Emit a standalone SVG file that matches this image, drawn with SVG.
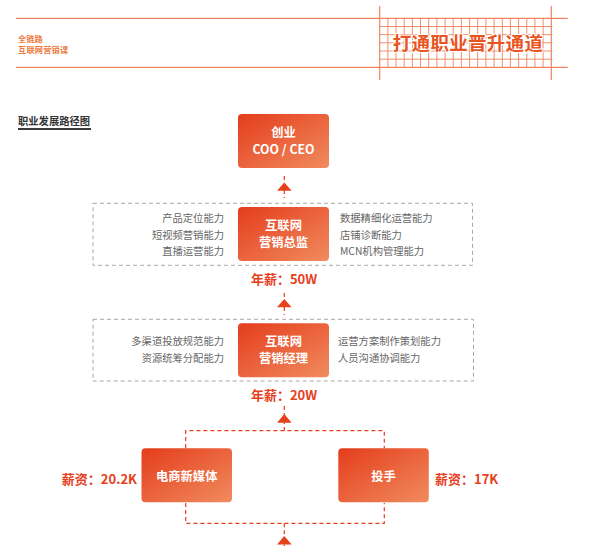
<svg xmlns="http://www.w3.org/2000/svg" width="592" height="546" viewBox="0 0 592 546">
<defs>
<linearGradient id="ng" x1="0" y1="0" x2="1" y2="1">
<stop offset="0" stop-color="#e43d1b"/>
<stop offset="1" stop-color="#f18b5f"/>
</linearGradient>
<style>
.hl{stroke:#ee8560;stroke-width:1.2;fill:none}
.gl{stroke:#ee8560;stroke-width:0.9;fill:none}
.cjk{font-family:"Noto Sans CJK SC","Noto Sans",sans-serif}
.nbox{fill:url(#ng)}
.nt{font-family:"Noto Sans CJK SC","Noto Sans",sans-serif;font-size:12.3px;font-weight:bold;fill:#ffffff;text-anchor:middle}
.sk{font-family:"Noto Sans CJK SC","Noto Sans",sans-serif;font-size:10.3px;fill:#666666}
.sal{font-family:"Noto Sans CJK SC","Noto Sans",sans-serif;font-size:13px;font-weight:bold;fill:#e6401d}
.gbox{fill:none;stroke:#a8a8a8;stroke-width:1;stroke-dasharray:4 3}
.dl{fill:none;stroke:#e6401d;stroke-width:1.2;stroke-dasharray:4 3}
.ah{fill:#e6401d}
</style>
</defs>
<rect width="592" height="546" fill="#ffffff"/>

<g id="header">
<line class="hl" x1="16" y1="18.3" x2="567.7" y2="18.3"/>
<line class="hl" x1="16" y1="67.3" x2="567.7" y2="67.3"/>
<g class="gl">
<line x1="379.7" y1="26.5" x2="552.5" y2="26.5"/>
<line x1="379.7" y1="34.6" x2="552.5" y2="34.6"/>
<line x1="379.7" y1="42.8" x2="552.5" y2="42.8"/>
<line x1="379.7" y1="51.0" x2="552.5" y2="51.0"/>
<line x1="379.7" y1="59.2" x2="552.5" y2="59.2"/>
<line x1="387.9" y1="18.3" x2="387.9" y2="67.3"/>
<line x1="396.0" y1="18.3" x2="396.0" y2="67.3"/>
<line x1="404.2" y1="18.3" x2="404.2" y2="67.3"/>
<line x1="412.4" y1="18.3" x2="412.4" y2="67.3"/>
<line x1="420.5" y1="18.3" x2="420.5" y2="67.3"/>
<line x1="428.7" y1="18.3" x2="428.7" y2="67.3"/>
<line x1="436.9" y1="18.3" x2="436.9" y2="67.3"/>
<line x1="445.1" y1="18.3" x2="445.1" y2="67.3"/>
<line x1="453.2" y1="18.3" x2="453.2" y2="67.3"/>
<line x1="461.4" y1="18.3" x2="461.4" y2="67.3"/>
<line x1="469.6" y1="18.3" x2="469.6" y2="67.3"/>
<line x1="477.7" y1="18.3" x2="477.7" y2="67.3"/>
<line x1="485.9" y1="18.3" x2="485.9" y2="67.3"/>
<line x1="494.1" y1="18.3" x2="494.1" y2="67.3"/>
<line x1="502.3" y1="18.3" x2="502.3" y2="67.3"/>
<line x1="510.4" y1="18.3" x2="510.4" y2="67.3"/>
<line x1="518.6" y1="18.3" x2="518.6" y2="67.3"/>
<line x1="526.8" y1="18.3" x2="526.8" y2="67.3"/>
<line x1="534.9" y1="18.3" x2="534.9" y2="67.3"/>
<line x1="543.1" y1="18.3" x2="543.1" y2="67.3"/>
</g>
<line class="hl" x1="379.7" y1="6" x2="379.7" y2="80"/>
<line class="hl" x1="551.3" y1="6" x2="551.3" y2="80"/>
<text class="cjk" x="468" y="49.7" text-anchor="middle" font-size="18.5" font-weight="bold" fill="#e8541f" stroke="#ffffff" stroke-width="2.2" paint-order="stroke" letter-spacing="0.3">打通职业晋升通道</text>
<text class="cjk" x="18" y="41.5" font-size="8.2" font-weight="bold" fill="#ee7a3c">全链路</text>
<text class="cjk" x="18" y="52.5" font-size="8.2" font-weight="bold" fill="#ee7a3c" letter-spacing="0.2">互联网营销课</text>
</g>

<g id="section-title">
<text class="cjk" x="18" y="124.6" font-size="10.3" font-weight="bold" fill="#333333">职业发展路径图</text>
<rect x="18" y="128" width="73" height="2" fill="#3a3a3a"/>
</g>

<g id="connectors">
<line class="dl" x1="284.3" y1="176" x2="284.3" y2="198"/>
<polygon class="ah" points="284.3,182.5 277,190.7 291.6,190.7"/>
<line class="dl" x1="284.3" y1="293" x2="284.3" y2="315"/>
<polygon class="ah" points="284.3,299 277,307.3 291.6,307.3"/>
<line class="dl" x1="284.3" y1="406" x2="284.3" y2="430.7"/>
<polygon class="ah" points="284.3,414 277,422.7 291.6,422.7"/>
<polyline class="dl" points="185.7,448 185.7,430.7 384.3,430.7 384.3,448"/>
<polyline class="dl" points="185.7,503 185.7,523.3 384.3,523.3 384.3,503"/>
<line class="dl" x1="284.3" y1="523.3" x2="284.3" y2="546"/>
<polygon class="ah" points="284.3,536 277,544.5 291.6,544.5"/>
</g>

<g id="node-ceo">
<rect class="nbox" x="238" y="114" width="91" height="54" rx="4"/>
<text class="nt" x="283.5" y="137">创业</text>
<text class="nt" x="283.5" y="154">COO / CEO</text>
</g>

<g id="group-director">
<rect class="gbox" x="93" y="203.3" width="379.5" height="62"/>
</g>
<g id="node-director">
<rect class="nbox" x="238" y="207" width="91" height="54" rx="4"/>
<text class="nt" x="283.5" y="229.8">互联网</text>
<text class="nt" x="283.5" y="246.8">营销总监</text>
<text class="sk" x="224" y="222.2" text-anchor="end">产品定位能力</text>
<text class="sk" x="224" y="238.6" text-anchor="end">短视频营销能力</text>
<text class="sk" x="224" y="254.6" text-anchor="end">直播运营能力</text>
<text class="sk" x="340" y="222.2">数据精细化运营能力</text>
<text class="sk" x="340" y="238.6">店铺诊断能力</text>
<text class="sk" x="340" y="254.6">MCN机构管理能力</text>
</g>
<g id="salary-50w">
<text class="sal" x="284" y="283.6" text-anchor="middle">年薪：50W</text>
</g>

<g id="group-manager">
<rect class="gbox" x="93" y="319.3" width="380.5" height="61.7"/>
</g>
<g id="node-manager">
<rect class="nbox" x="238" y="323.3" width="91" height="54" rx="4"/>
<text class="nt" x="283.5" y="346">互联网</text>
<text class="nt" x="283.5" y="362.5">营销经理</text>
<text class="sk" x="224" y="345" text-anchor="end">多渠道投放规范能力</text>
<text class="sk" x="224" y="362.2" text-anchor="end">资源统筹分配能力</text>
<text class="sk" x="338" y="345">运营方案制作策划能力</text>
<text class="sk" x="338" y="362.2">人员沟通协调能力</text>
</g>
<g id="salary-20w">
<text class="sal" x="284" y="400.2" text-anchor="middle">年薪：20W</text>
</g>

<g id="node-ecommerce">
<rect class="nbox" x="141.5" y="448.3" width="90.5" height="54" rx="4"/>
<text class="nt" x="186.7" y="480.7">电商新媒体</text>
<text class="sal" x="137" y="484" text-anchor="end">薪资：20.2K</text>
</g>
<g id="node-buyer">
<rect class="nbox" x="338.3" y="448.3" width="90.5" height="54" rx="4"/>
<text class="nt" x="383.5" y="480.7">投手</text>
<text class="sal" x="435" y="484">薪资：17K</text>
</g>
</svg>
